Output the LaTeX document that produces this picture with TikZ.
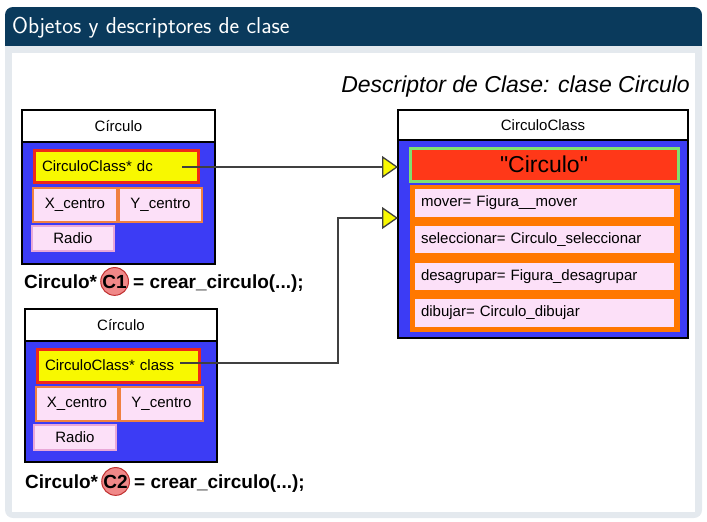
\documentclass[tikz,border=0pt]{standalone}
\usepackage{fontspec}
\setmainfont{Liberation Sans}
\usetikzlibrary{arrows.meta,positioning}

\definecolor{navy}{HTML}{0A3A5C}
\definecolor{blockgray}{HTML}{E4E9EE}
\definecolor{objblue}{HTML}{3C3CF5}
\definecolor{ptryellow}{HTML}{F8F800}
\definecolor{ptrred}{HTML}{F02818}
\definecolor{fieldpink}{HTML}{FCE0F8}
\definecolor{fieldorange}{HTML}{F08040}
\definecolor{radioborder}{HTML}{E8A8D8}
\definecolor{clsorange}{HTML}{FF7800}
\definecolor{clsgreen}{HTML}{80E070}
\definecolor{clsred}{HTML}{FF3818}
\definecolor{refpink}{HTML}{F08888}
\definecolor{refred}{HTML}{C03030}

\newcommand\boxfont{\fontsize{15}{17}\selectfont}

\tikzset{
  cell/.style={inner sep=0pt, outer sep=0pt, font=\boxfont},
  objhead/.style={cell, draw=black, line width=1.3pt, fill=white},
  objbody/.style={cell, draw=black, line width=1.3pt, fill=objblue},
  ptrbox/.style={cell, draw=ptrred, line width=3pt, fill=ptryellow,
    inner xsep=8pt, align=left},
  fieldbox/.style={cell, draw=fieldorange, line width=2pt, fill=fieldpink},
  radiobox/.style={cell, draw=radioborder, line width=1.5pt, fill=fieldpink},
  methodbox/.style={cell, fill=fieldpink, inner xsep=6pt, align=left},
  call/.style={inner sep=0pt, font=\bfseries\fontsize{19}{21}\selectfont},
  refmark/.style={circle, draw=refred, line width=1pt, fill=refpink,
    inner sep=0pt, minimum size=26pt, font=\bfseries\fontsize{19}{21}\selectfont},
  link/.style={draw=black!75, line width=1.3pt,
    -{Triangle[length=16pt,width=22pt,fill=ptryellow]}}
}

\begin{document}
\begin{tikzpicture}[x=1pt,y=-1pt]
  \useasboundingbox (0,0) rectangle (707,522);

  % block frame
  \fill[blockgray, rounded corners=8pt] (5,7) rectangle (702,518);
  \begin{scope}
    \clip[rounded corners=8pt] (5,7) rectangle (702,518);
    \fill[navy] (5,7) rectangle (702,46);
  \end{scope}
  \fill[white] (12,53) rectangle (695,512);
  \node[anchor=base west, inner sep=0pt, text=white,
    font=\sffamily\fontsize{23}{26}\selectfont] (title) at (12,33)
    {Objetos y descriptores de clase};

  % first object
  \node[objhead, minimum width=193, minimum height=32] (head1) at (118.5,126) {Círculo};
  \node[objbody, minimum width=193, minimum height=122] (body1) at (118.5,203) {};
  \node[ptrbox, text width=148, minimum height=32] (ptr1) at (116,166) {CirculoClass* dc};
  \node[fieldbox, minimum width=84, minimum height=34] (x1) at (75,205) {X\_centro};
  \node[fieldbox, minimum width=83, minimum height=34] (y1) at (160.5,205) {Y\_centro};
  \node[radiobox, minimum width=82, minimum height=25] (r1) at (73,238.5) {Radio};

  \node[call, anchor=base west] (call1) at (24,288) {Circulo*};
  \node[refmark, base right=3pt of call1] (c1) {C1};
  \node[call, base right=4pt of c1] (make1) {= crear\_circulo(...);};

  % second object
  \node[objhead, minimum width=192, minimum height=32] (head2) at (121,325) {Círculo};
  \node[objbody, minimum width=192, minimum height=121] (body2) at (121,401.5) {};
  \node[ptrbox, text width=146, minimum height=33] (ptr2) at (118,365.5) {CirculoClass* class};
  \node[fieldbox, minimum width=82, minimum height=34] (x2) at (77,404) {X\_centro};
  \node[fieldbox, minimum width=83, minimum height=34] (y2) at (161.5,404) {Y\_centro};
  \node[radiobox, minimum width=82, minimum height=25] (r2) at (75,437.5) {Radio};

  \node[call, anchor=base west] (call2) at (25,488) {Circulo*};
  \node[refmark, base right=3pt of call2] (c2) {C2};
  \node[call, base right=4pt of c2] (make2) {= crear\_circulo(...);};

  % class descriptor
  \node[anchor=base east, inner sep=0pt,
    font=\itshape\fontsize{23}{26}\selectfont] (desc) at (690,92)
    {Descriptor de Clase: clase Circulo};
  \node[objhead, minimum width=290, minimum height=30] (head3) at (543,125) {CirculoClass};
  \node[objbody, minimum width=290, minimum height=198] (body3) at (543,239) {};
  \node[cell, draw=clsgreen, line width=3pt, fill=clsred, minimum width=268,
    minimum height=33, font=\fontsize{23}{25}\selectfont\addfontfeatures{Ligatures=TeXOff}]
    (name3) at (544,164.5) {"Circulo"};
  \node[cell, fill=clsorange, minimum width=270, minimum height=147] (panel3) at (545,258.5) {};
  \node[methodbox, text width=247, minimum height=28] (m1) at (544.5,203) {mover= Figura\_\_mover};
  \node[methodbox, text width=247, minimum height=27] (m2) at (544.5,239.5) {seleccionar= Circulo\_seleccionar};
  \node[methodbox, text width=247, minimum height=27] (m3) at (544.5,276.5) {desagrupar= Figura\_desagrupar};
  \node[methodbox, text width=247, minimum height=28] (m4) at (544.5,313) {dibujar= Circulo\_dibujar};

  % pointers to the descriptor
  \coordinate (ptr1 end) at (182,167);
  \coordinate (ptr2 end) at (180,363);
  \coordinate (desc in1) at (body3.west |- ptr1 end);
  \coordinate (desc in2) at (398,218);
  \draw[link] (ptr1 end) -- (desc in1);
  \draw[link] (ptr2 end) -- ++(158,0) |- (desc in2);

\end{tikzpicture}
\end{document}
